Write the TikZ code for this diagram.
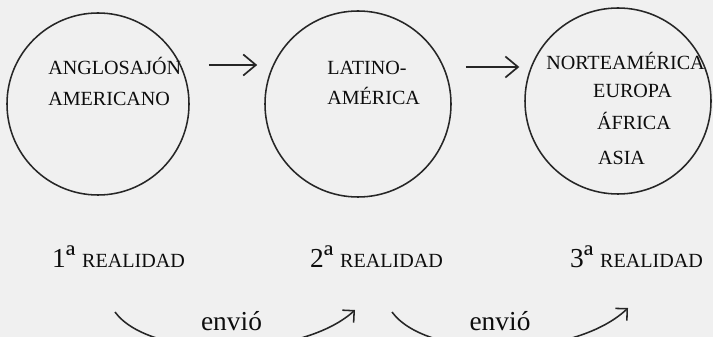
\documentclass[tikz,border=0pt]{standalone}
\usepackage{fontspec}
\setmainfont{Liberation Serif}
\usetikzlibrary{arrows.meta}
\tikzset{
  circulo/.style={draw=black!85, line width=1.1pt, circle, inner sep=0pt},
  pais/.style={inner sep=0pt, text=black!95, font=\fontsize{14.3}{17}\selectfont},
  grande/.style={inner sep=0pt, text=black!95, font=\fontsize{19.5}{23}\selectfont},
  flecha/.style={draw=black!85, line width=1.2pt, -{Straight Barb[length=9pt,width=15pt]}},
  vuelta/.style={draw=black!85, line width=1.1pt, -{Straight Barb[length=6pt,width=12pt]}}
}
\newcommand{\chico}{\fontsize{14.3}{17}\selectfont}
\newcommand{\ord}{\raisebox{-1pt}{\scalebox{1.25}{ª}}}
\begin{document}
\begin{tikzpicture}[x=0.25mm,y=-0.25mm]
  \useasboundingbox (0,0) rectangle (713,337);
  \fill[black!6] (0,0) rectangle (713,337);
  \clip (0,0) rectangle (713,337);
  \node[circulo, minimum size=45.5mm] (c1) at (98,104) {};
  \node[circulo, minimum size=46.5mm] (c2) at (358,104) {};
  \node[circulo, minimum size=46.5mm] (c3) at (618,101) {};
  \node[pais, anchor=base west] (t1a) at (48,75) {ANGLOSAJÓN};
  \node[pais, anchor=base west] (t1b) at (48,106) {AMERICANO};
  \node[pais, anchor=base west] (t2a) at (327,75) {LATINO-};
  \node[pais, anchor=base west] (t2b) at (327,105) {AMÉRICA};
  \node[pais, anchor=base] (t3a) at (625.5,70) {NORTEAMÉRICA};
  \node[pais, anchor=base] (t3b) at (632.5,98) {EUROPA};
  \node[pais, anchor=base] (t3c) at (634,130) {ÁFRICA};
  \node[pais, anchor=base] (t3d) at (621.5,165) {ASIA};
  \draw[flecha, shorten <=13.5pt, shorten >=5pt] (c1.east |- 0,65) -- (c2.west |- 0,65);
  \draw[flecha, shorten <=10pt, shorten >=3.5pt] (c2.east |- 0,67) -- (c3.west |- 0,67);
  \node[grande, anchor=base] (r1) at (118.5,267) {1\ord{} {\chico REALIDAD}};
  \node[grande, anchor=base] (r2) at (376.5,267) {2\ord{} {\chico REALIDAD}};
  \node[grande, anchor=base] (r3) at (636.5,267) {3\ord{} {\chico REALIDAD}};
  \coordinate (e1) at (115,312); \coordinate (f1) at (355,310);
  \draw[vuelta] (e1) .. controls (150,360) and (300,360) .. (f1);
  \node[grande, anchor=base] (v1) at (231.5,330) {envió};
  \coordinate (e2) at (392,312); \coordinate (f2) at (628,308);
  \draw[vuelta] (e2) .. controls (427,360) and (573,360) .. (f2);
  \node[grande, anchor=base] (v2) at (500,330) {envió};
\end{tikzpicture}
\end{document}
